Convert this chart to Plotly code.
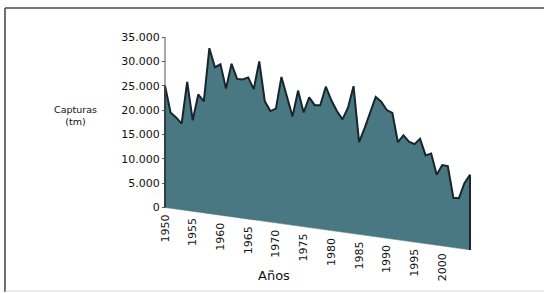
import plotly.graph_objects as go

# ---------------- data ----------------
years = list(range(1950, 2006))
capturas = [
    25000, 19500, 18500, 17200, 25800, 17900, 23200, 21800, 32700, 28800,
    29400, 24400, 29500, 26400, 26300, 26700, 24300, 30000, 21800, 19800,
    20300, 26800, 22700, 18700, 24000, 19500, 22600, 21000, 21000, 24800,
    22000, 19800, 18100, 20500, 24900, 13400, 16300, 19400, 22700, 21700,
    20000, 19400, 13400, 14800, 13500, 13000, 14100, 10700, 11100, 6700,
    8700, 8500, 2000, 1900, 5000, 6700,
]
y_tickvals = [0, 5000, 10000, 15000, 20000, 25000, 30000, 35000]
y_ticktext = ["0", "5.000", "10.000", "15.000", "20.000", "25.000", "30.000", "35.000"]
x_labels = [1950, 1955, 1960, 1965, 1970, 1975, 1980, 1985, 1990, 1995, 2000]

# ---------------- geometry / style ----------------
W, H = 544, 293
X0_PX, PX_PER_YR = 165.0, 5.545          # pixel of first year, pixels per year
Y0_PX, Y35_PX = 207.5, 37.0              # pixel of 0 and of 35000
V_PER_PX = 35000 / (Y0_PX - Y35_PX)
DEPTH = 8700                             # perspective drop of the floor at last year

xr = [years[0] - X0_PX / PX_PER_YR, years[0] + (W - X0_PX) / PX_PER_YR]
yr = [-(H - Y0_PX) * V_PER_PX, 35000 + Y35_PX * V_PER_PX]

span = years[-1] - years[0]
def floor(yv):
    return -DEPTH * (yv - years[0]) / span

base = [floor(y) for y in years]

FILL = "#497882"
EDGE = "#18262b"
FONT = "DejaVu Sans"

fig = go.Figure()
fig.add_trace(go.Scatter(
    x=years + years[::-1], y=capturas + base[::-1],
    fill="toself", fillcolor=FILL, mode="lines",
    line=dict(width=0.5, color=FILL), hoverinfo="skip", showlegend=False))
fig.add_trace(go.Scatter(
    x=[years[0]] + years + [years[-1]],
    y=[0] + capturas + [base[-1]],
    mode="lines", line=dict(color=EDGE, width=2),
    hoverinfo="skip", showlegend=False))

def px_x(p): return p / W
def px_y(p): return 1 - p / H

shapes = [
    dict(type="line", xref="x", yref="y", x0=years[0], x1=years[0], y0=0, y1=35000,
         line=dict(color="#555555", width=1)),
    dict(type="line", xref="paper", yref="paper", x0=px_x(5), x1=px_x(5), y0=px_y(8), y1=px_y(292),
         line=dict(color="#4a4a4a", width=1.6)),
    dict(type="line", xref="paper", yref="paper", x0=px_x(5), x1=1.02, y0=px_y(8), y1=px_y(8),
         line=dict(color="#4a4a4a", width=1.6)),
    dict(type="line", xref="paper", yref="paper", x0=px_x(5), x1=1.02, y0=px_y(291), y1=px_y(291),
         line=dict(color="#d5d5d5", width=1)),
]

annotations = []
for yv in x_labels:
    annotations.append(dict(
        x=yv, y=floor(yv), xref="x", yref="y", text=str(yv), showarrow=False,
        textangle=-90, xanchor="center", yanchor="top", yshift=-5,
        font=dict(family=FONT, size=11, color="#111111")))
annotations.append(dict(
    x=px_x(75), y=px_y(115), xref="paper", yref="paper", text="Capturas<br>(tm)",
    showarrow=False, xanchor="center", yanchor="middle",
    font=dict(family=FONT, size=9.5, color="#111111")))
annotations.append(dict(
    x=px_x(274), y=px_y(275), xref="paper", yref="paper", text="Años",
    showarrow=False, xanchor="center", yanchor="middle",
    font=dict(family=FONT, size=13, color="#111111")))

fig.update_layout(
    width=W, height=H, margin=dict(l=0, r=0, t=0, b=0),
    paper_bgcolor="white", plot_bgcolor="white",
    xaxis=dict(range=xr, visible=False, fixedrange=True),
    yaxis=dict(range=yr, anchor="free", position=X0_PX / W, fixedrange=True,
               tickvals=y_tickvals, ticktext=y_ticktext,
               ticks="outside", ticklen=3, tickcolor="#555555",
               showline=False, showgrid=False, zeroline=False, automargin=False,
               tickfont=dict(family=FONT, size=11, color="#111111")),
    shapes=shapes, annotations=annotations, showlegend=False,
)

fig.write_html(
    "out.html",
    config={"displayModeBar": False, "staticPlot": True},
    post_script="document.body.style.margin='0';document.body.style.overflow='hidden';",
)
